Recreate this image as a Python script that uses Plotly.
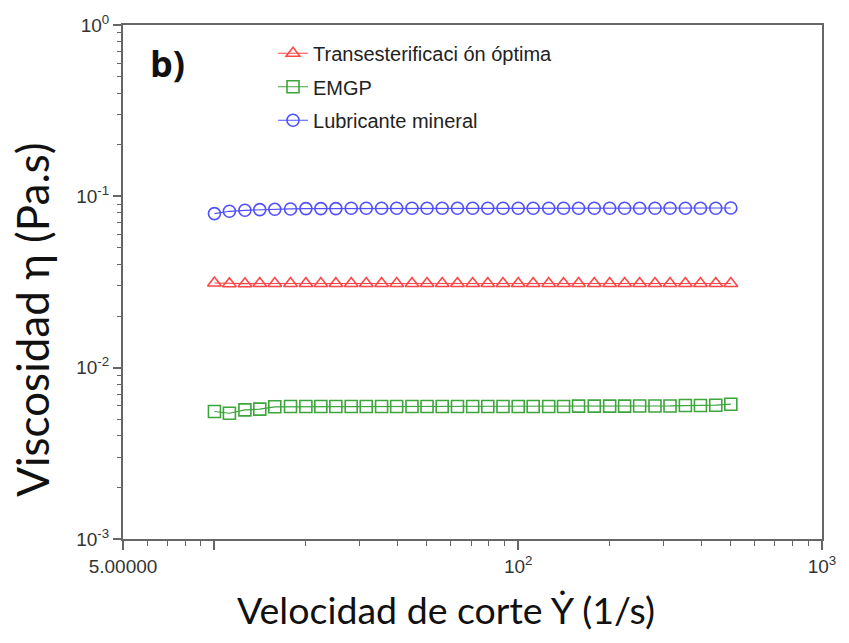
import plotly.graph_objects as go

# Shear rate (1/s)
shear_rate = [10.0, 11.2, 12.6, 14.1, 15.8, 17.8, 20.0, 22.4, 25.1, 28.2,
              31.6, 35.5, 39.8, 44.7, 50.1, 56.2, 63.1, 70.8, 79.4, 89.1,
              100, 112, 126, 141, 158, 178, 200, 224, 251, 282,
              316, 355, 398, 447, 501]

# Viscosity (Pa.s) per sample
visc_trans = [0.0312, 0.0309, 0.0309, 0.0310, 0.0310, 0.0310, 0.0310, 0.0310, 0.0310, 0.0310,
              0.0310, 0.0310, 0.0310, 0.0310, 0.0310, 0.0310, 0.0310, 0.0310, 0.0310, 0.0310,
              0.0310, 0.0310, 0.0310, 0.0310, 0.0310, 0.0310, 0.0310, 0.0310, 0.0310, 0.0310,
              0.0310, 0.0310, 0.0310, 0.0310, 0.0310]
visc_emgp = [0.00555, 0.00542, 0.00567, 0.00573, 0.00591, 0.00593, 0.00593, 0.00593, 0.00593, 0.00593,
             0.00593, 0.00593, 0.00593, 0.00593, 0.00593, 0.00593, 0.00593, 0.00593, 0.00593, 0.00593,
             0.00593, 0.00593, 0.00593, 0.00593, 0.00596, 0.00596, 0.00596, 0.00596, 0.00598, 0.00598,
             0.00598, 0.00601, 0.00601, 0.00604, 0.00612]
visc_mineral = [0.0793, 0.0818, 0.0829, 0.0836, 0.0840, 0.0844, 0.0848, 0.0848, 0.0848, 0.0852,
                0.0852, 0.0852, 0.0852, 0.0852, 0.0852, 0.0852, 0.0852, 0.0852, 0.0852, 0.0852,
                0.0852, 0.0852, 0.0852, 0.0852, 0.0852, 0.0852, 0.0852, 0.0852, 0.0852, 0.0852,
                0.0852, 0.0852, 0.0852, 0.0852, 0.0855]

series = [
    ("Transesterificaci ón óptima", visc_trans, "triangle-up-open", "rgb(255,70,70)"),
    ("EMGP", visc_emgp, "square-open", "rgb(60,165,60)"),
    ("Lubricante mineral", visc_mineral, "circle-open", "rgb(80,80,255)"),
]

x_tickvals = [5, 10, 100, 1000]
x_ticktext = ["5.00000", "", "10<sup>2</sup>", "10<sup>3</sup>"]
x_minor = [6, 7, 8, 9, 20, 30, 40, 50, 60, 70, 80, 90,
           200, 300, 400, 500, 600, 700, 800, 900]
y_tickvals = [0.001, 0.01, 0.1, 1]
y_ticktext = ["10<sup>-3</sup>", "10<sup>-2</sup>", "10<sup>-1</sup>", "10<sup>0</sup>"]
y_minor = [m * d for d in (0.001, 0.01, 0.1) for m in range(2, 10)]

fig = go.Figure()
for i, (name, vals, sym, col) in enumerate(series):
    fig.add_trace(go.Scatter(
        x=shear_rate, y=vals, name=name, mode="lines+markers",
        legendgroup=f"g{i}",
        line=dict(color=col, width=1.2),
        marker=dict(symbol=sym, size=12, color=col, line=dict(width=1.6, color=col)),
    ))

axis_col = "#666666"
tick_font = dict(family="Liberation Sans, Arial, sans-serif", size=19, color="#333333")

fig.update_layout(
    width=849, height=643,
    margin=dict(l=123, r=27, t=23, b=104),
    paper_bgcolor="white", plot_bgcolor="white",
    showlegend=True,
    legend=dict(
        x=0.2146, y=0.983, xanchor="left", yanchor="top",
        bgcolor="rgba(0,0,0,0)", tracegroupgap=4.5,
        font=dict(family="Liberation Sans, Arial, sans-serif", size=20, color="#222222"),
    ),
    xaxis=dict(
        type="log", range=[0.69897, 3],
        tickmode="array", tickvals=x_tickvals, ticktext=x_ticktext,
        ticks="outside", ticklen=9, tickwidth=1.5, tickcolor=axis_col,
        showline=True, linecolor=axis_col, linewidth=2, mirror=True,
        showgrid=False, zeroline=False, tickfont=tick_font,
        minor=dict(tickmode="array", tickvals=x_minor, ticks="outside",
                   ticklen=5, tickwidth=1.2, tickcolor=axis_col, showgrid=False),
    ),
    yaxis=dict(
        type="log", range=[-3, 0],
        tickmode="array", tickvals=y_tickvals, ticktext=y_ticktext,
        ticks="outside", ticklen=8, tickwidth=1.5, tickcolor=axis_col,
        showline=True, linecolor=axis_col, linewidth=2, mirror=True,
        showgrid=False, zeroline=False, tickfont=tick_font,
        minor=dict(tickmode="array", tickvals=y_minor, ticks="outside",
                   ticklen=4, tickwidth=1.2, tickcolor=axis_col, showgrid=False),
    ),
)

fig.add_annotation(text="Velocidad de corte Ẏ (1/s)", xref="paper", yref="paper",
                   x=(446 - 123) / 699, y=-(610 - 539) / 516,
                   xanchor="center", yanchor="middle", showarrow=False,
                   font=dict(family="Lato, Open Sans, sans-serif", size=37.5, color="#111111"))
fig.add_annotation(text="Viscosidad η (Pa.s)", xref="paper", yref="paper",
                   x=-(123 - 32) / 699, y=(539 - 319) / 516, textangle=-90,
                   xanchor="center", yanchor="middle", showarrow=False,
                   font=dict(family="Lato, Open Sans, sans-serif", size=44, color="#111111"))
fig.add_annotation(text="<b>b)</b>", xref="paper", yref="paper",
                   x=(167 - 123) / 699, y=(539 - 62) / 516,
                   xanchor="center", yanchor="middle", showarrow=False,
                   font=dict(family="Open Sans, sans-serif", size=36, color="#111111"))

fig.write_html("out.html")
